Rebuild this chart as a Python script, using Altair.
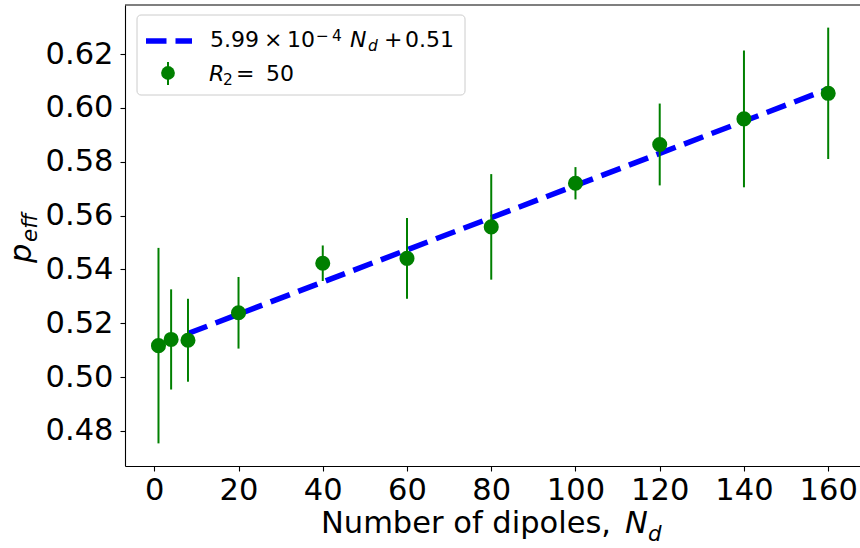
import altair as alt
import pandas as pd

# ---- data ----
N_d = [1, 4, 8, 20, 40, 60, 80, 100, 120, 140, 160]
p_eff = [0.5117, 0.5140, 0.5137, 0.5239, 0.5423, 0.5441, 0.5558, 0.5720, 0.5864, 0.5959, 0.6054]
p_err = [0.0363, 0.0186, 0.0154, 0.0133, 0.0066, 0.0150, 0.0196, 0.0060, 0.0152, 0.0254, 0.0244]

fit_N = [8, 160]
fit_p = [0.5162, 0.6070]

x_ticks = [0, 20, 40, 60, 80, 100, 120, 140, 160]
y_ticks = [0.48, 0.50, 0.52, 0.54, 0.56, 0.58, 0.60, 0.62]

FONT = "DejaVu Sans"
GREEN = "#008000"
BLUE = "#0000ff"
FS = 30.5      # tick labels / axis titles
FS_SUB = 21.4  # axis title subscripts
LFS = 22       # legend text
LFS_SUB = 15.4 # legend sub/superscripts

W, H = 735, 461
PAD_L, PAD_T = 125, 5

df = pd.DataFrame({"N": N_d, "p": p_eff, "err": p_err})
df["lo"] = df["p"] - df["err"]
df["hi"] = df["p"] + df["err"]
fit = pd.DataFrame({"N": fit_N, "p": fit_p})

xs = alt.Scale(domain=[-6.95, 167.55], nice=False, zero=False)
ys = alt.Scale(domain=[0.467, 0.6382], nice=False, zero=False)

x_axis = alt.Axis(values=x_ticks, title=None, grid=False, labelFontSize=FS, labelFont=FONT,
                  labelColor="black", tickColor="black", domainColor="black", tickSize=5,
                  tickWidth=1.1, domainWidth=1.1, labelPadding=4, labelFlush=False)
y_axis = alt.Axis(values=y_ticks, format=".2f", title=None, grid=False, labelFontSize=FS,
                  labelFont=FONT, labelColor="black", tickColor="black", domainColor="black",
                  tickSize=5, tickWidth=1.1, domainWidth=1.1, labelPadding=7, labelFlush=False)

line = alt.Chart(fit).mark_line(color=BLUE, strokeWidth=5.5, strokeDash=[20.5, 9], strokeCap="butt").encode(
    x=alt.X("N:Q", scale=xs, axis=x_axis),
    y=alt.Y("p:Q", scale=ys, axis=y_axis),
)

bars = alt.Chart(df).mark_rule(color=GREEN, strokeWidth=2).encode(
    x=alt.X("N:Q", scale=xs),
    y=alt.Y("lo:Q", scale=ys),
    y2="hi:Q",
)

pts = alt.Chart(df).mark_circle(color=GREEN, opacity=1, size=227).encode(
    x=alt.X("N:Q", scale=xs),
    y=alt.Y("p:Q", scale=ys),
)

one = alt.Data(values=[{"a": 1}])

top_border = alt.Chart(one).mark_rule(color="black", strokeWidth=1.1).encode(
    x=alt.value(0), x2=alt.value(W), y=alt.value(0))


def txt(s, xp, yp, size, italic=False, angle=None):
    kw = dict(text=s, font=FONT, fontSize=size, align="left", baseline="alphabetic", color="black")
    if italic:
        kw["fontStyle"] = "italic"
    if angle is not None:
        kw["angle"] = angle
    return alt.Chart(one).mark_text(**kw).encode(x=alt.value(xp - PAD_L), y=alt.value(yp - PAD_T))


# axis titles
x_title = [
    txt("Number of dipoles,", 321, 533, FS),
    txt("N", 625, 533, FS, italic=True),
    txt("d", 648, 541, FS_SUB, italic=True),
]
y_title = [
    txt("p", 31, 263, FS, italic=True, angle=270),
    txt("eff", 37, 242, FS_SUB, italic=True, angle=270),
]

# legend
leg_box = alt.Chart(one).mark_rect(fill="white", fillOpacity=0.8, stroke="#cccccc", strokeWidth=1,
                                   cornerRadius=4).encode(
    x=alt.value(137 - PAD_L), x2=alt.value(465 - PAD_L), y=alt.value(15 - PAD_T), y2=alt.value(95 - PAD_T))
leg_line = alt.Chart(one).mark_rule(color=BLUE, strokeWidth=5.5, strokeDash=[20.5, 9], strokeCap="butt").encode(
    x=alt.value(146 - PAD_L), x2=alt.value(192 - PAD_L), y=alt.value(41 - PAD_T))
leg_bar = alt.Chart(one).mark_rule(color=GREEN, strokeWidth=2).encode(
    x=alt.value(168 - PAD_L), y=alt.value(62 - PAD_T), y2=alt.value(85 - PAD_T))
leg_dot = alt.Chart(one).mark_circle(color=GREEN, opacity=1, size=190).encode(
    x=alt.value(168 - PAD_L), y=alt.value(73 - PAD_T))
leg_text = [
    txt("5.99", 210, 47, LFS),
    txt("×", 264, 47, LFS),
    txt("10", 287, 47, LFS),
    txt("−", 316, 41, LFS_SUB),
    txt("4", 332, 41, LFS_SUB),
    txt("N", 350, 47, LFS, italic=True),
    txt("d", 368, 51, LFS_SUB, italic=True),
    txt("+", 384, 47, LFS),
    txt("0.51", 405, 47, LFS),
    txt("R", 209, 81, LFS, italic=True),
    txt("2", 223, 85, LFS_SUB),
    txt("=", 236, 81, LFS),
    txt("50", 266, 81, LFS),
]

chart = alt.layer(
    line, bars, pts, top_border, *x_title, *y_title, leg_box, leg_line, leg_bar, leg_dot, *leg_text
).properties(
    width=W, height=H,
    autosize=alt.AutoSizeParams(type="none"),
    padding={"left": PAD_L, "top": PAD_T, "right": 0, "bottom": 548 - PAD_T - H},
    background="white",
).configure_view(stroke=None)

chart.save("out.html", embed_options={"renderer": "svg", "actions": False})
